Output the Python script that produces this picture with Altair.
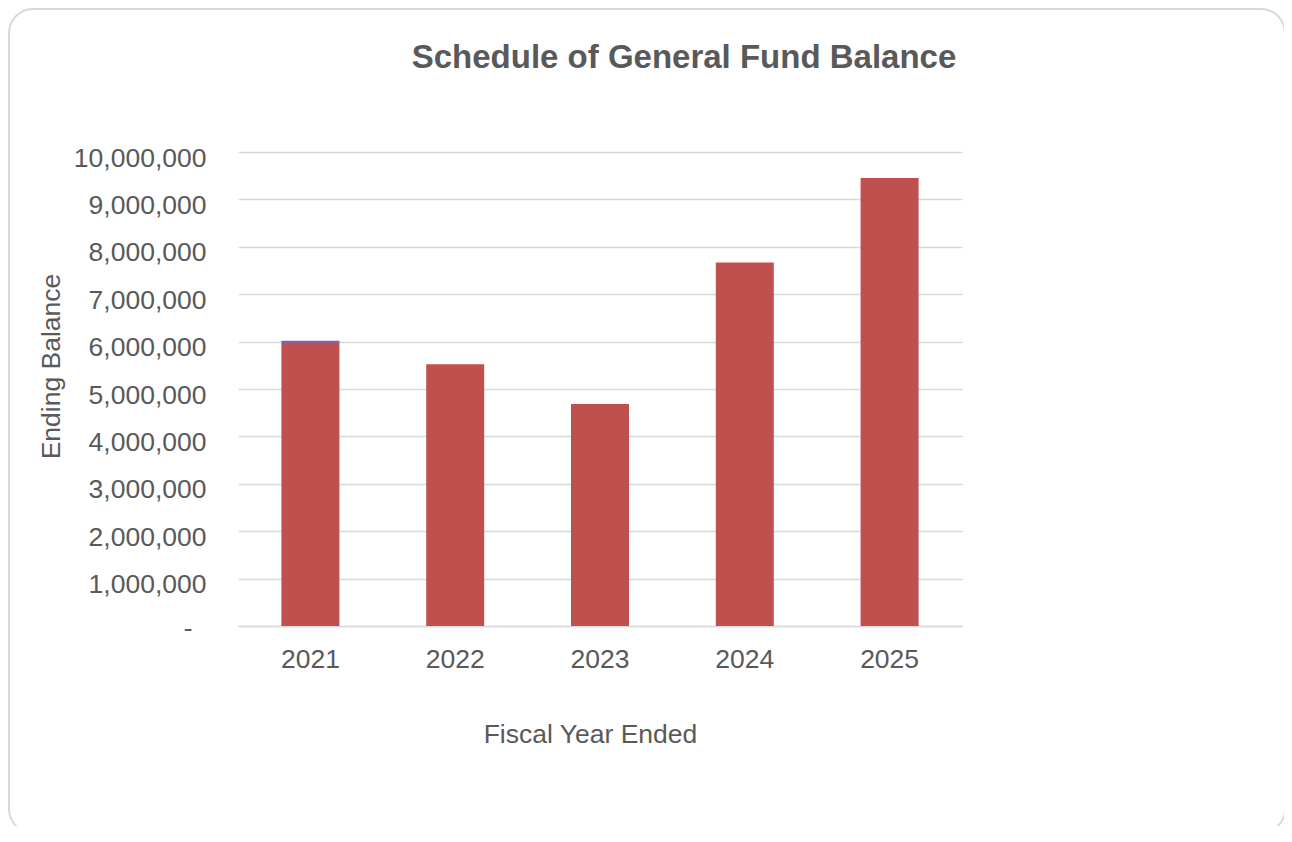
import altair as alt
import pandas as pd

years = ["2021", "2022", "2023", "2024", "2025"]
ending_balance = [5970000, 5520000, 4685000, 7670000, 9450000]
other_balance = [50000, 0, 0, 0, 0]
y_ticks = [0, 1000000, 2000000, 3000000, 4000000, 5000000,
           6000000, 7000000, 8000000, 9000000, 10000000]

rows = []
for yr, a, b in zip(years, ending_balance, other_balance):
    rows.append({"year": yr, "series": "Ending Balance", "value": a, "ord": 0})
    rows.append({"year": yr, "series": "Other", "value": b, "ord": 1})
df = pd.DataFrame(rows)

TXT = "#595959"
GRID = "#D9D9D9"
FONT = "Liberation Sans"

bars = alt.Chart(df).mark_bar(size=58).encode(
    x=alt.X("year:N", sort=years,
            scale=alt.Scale(paddingInner=0.6, paddingOuter=0.3),
            axis=alt.Axis(title="Fiscal Year Ended", labelAngle=0,
                          labelFontSize=26.5, labelColor=TXT, labelFont=FONT,
                          labelBaseline="alphabetic", labelPadding=41,
                          ticks=False, tickSize=0, grid=False,
                          domain=True, domainColor=GRID, domainWidth=1.5,
                          titleFontSize=26.5, titleColor=TXT, titleFont=FONT,
                          titleFontWeight="normal", titleBaseline="alphabetic",
                          titleAnchor="start", titleAlign="center",
                          titleX=352, titleY=116)),
    y=alt.Y("value:Q", stack="zero",
            scale=alt.Scale(domain=[0, 10000000], nice=False),
            axis=alt.Axis(title="Ending Balance", values=y_ticks,
                          labelExpr="datum.value == 0 ? '-' : format(datum.value, ',')",
                          labelFontSize=26.5, labelColor=TXT, labelFont=FONT,
                          labelBaseline="alphabetic",
                          labelOffset={"condition": {"test": "datum.value == 0", "value": 10}, "value": 14},
                          labelPadding={"condition": {"test": "datum.value == 0", "value": 46}, "value": 32},
                          labelOverlap=False,
                          ticks=False, tickSize=0, domain=False,
                          grid=True, gridColor=GRID, gridWidth=1.5,
                          titleFontSize=26.5, titleColor=TXT, titleFont=FONT,
                          titleFontWeight="normal", titleAngle=-90,
                          titleBaseline="alphabetic", titleAlign="center",
                          titleX=-179, titleY=214)),
    color=alt.Color("series:N",
                    scale=alt.Scale(domain=["Ending Balance", "Other"],
                                    range=["#C0504D", "#8064A2"]),
                    legend=None),
    order=alt.Order("ord:Q"),
)

frame = alt.Chart(pd.DataFrame({"a": [0]})).mark_rect(
    fill=None, stroke=GRID, strokeWidth=2, cornerRadius=24
).encode(
    x=alt.value(-229), x2=alt.value(1047),
    y=alt.value(-143), y2=alt.value(681),
)

chart = alt.layer(frame, bars).properties(
    width=724, height=474,
    autosize=alt.AutoSizeParams(type="none"),
    padding={"left": 230, "top": 144, "right": 322, "bottom": 200},
    title=alt.TitleParams("Schedule of General Fund Balance",
                          fontSize=33, font=FONT, fontWeight="bold",
                          color=TXT, anchor="middle", frame="group",
                          baseline="alphabetic", offset=-93, dx=84),
    background="white",
).configure_view(stroke=None)

chart.save("out.html", embed_options={"renderer": "svg", "actions": False})
